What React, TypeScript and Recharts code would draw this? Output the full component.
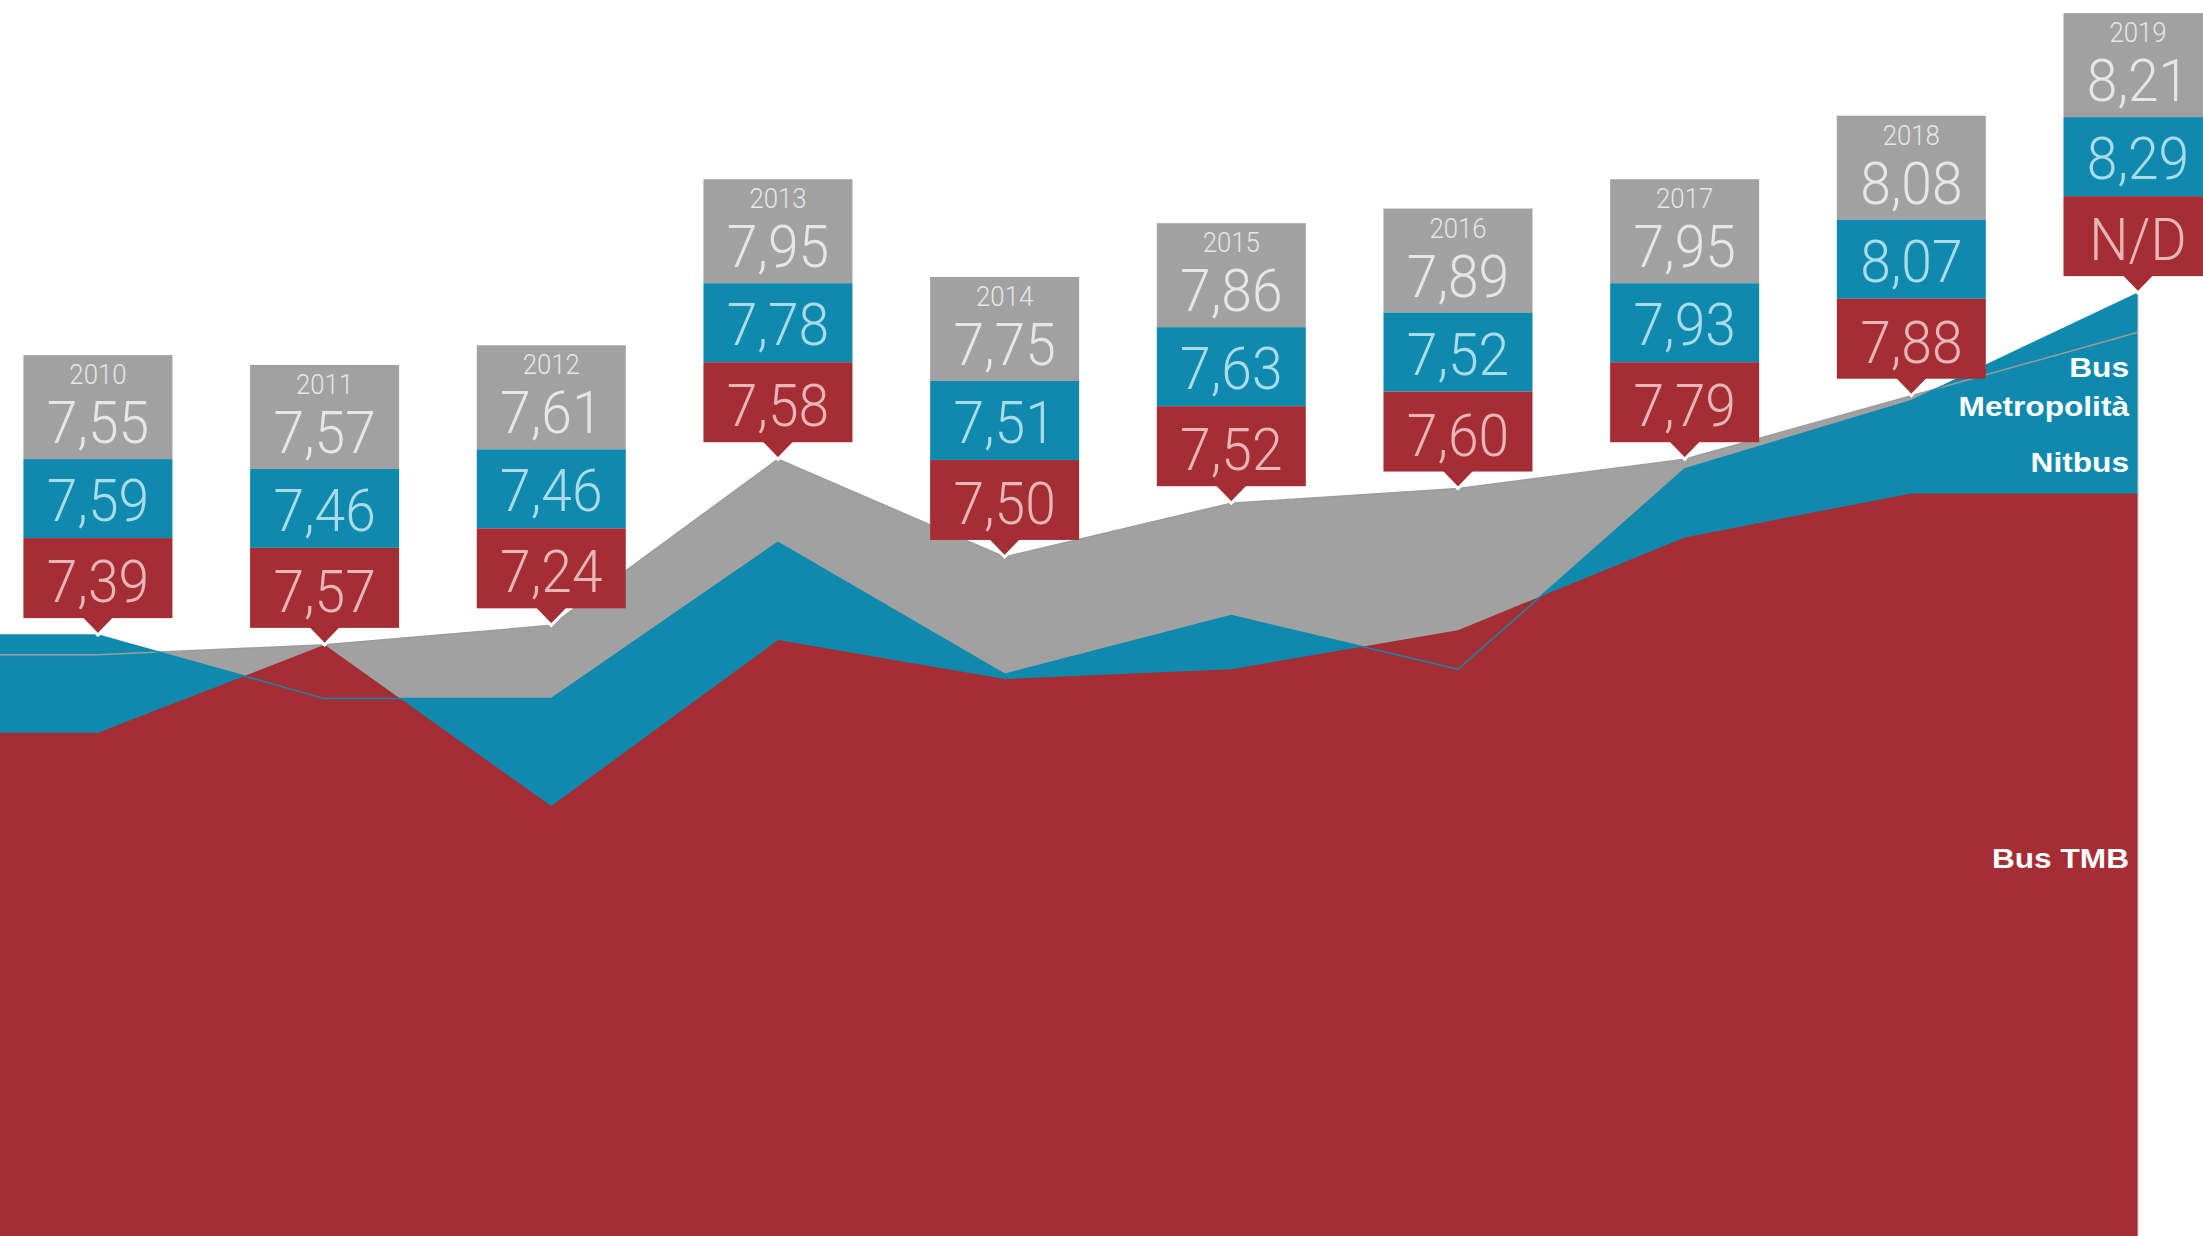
import React from "react";
import { ComposedChart, Area, Line, XAxis, YAxis, LabelList, ReferenceLine } from "recharts";

const years = [2010, 2011, 2012, 2013, 2014, 2015, 2016, 2017, 2018, 2019];
const metropolitaValues = [7.55, 7.57, 7.61, 7.95, 7.75, 7.86, 7.89, 7.95, 8.08, 8.21];
const nitbusValues = [7.59, 7.46, 7.46, 7.78, 7.51, 7.63, 7.52, 7.93, 8.07, 8.29];
// 2019 Bus TMB: not reported (N/D); the drawn area stays flat at the 2018 level
const tmbValues = [7.39, 7.57, 7.24, 7.58, 7.5, 7.52, 7.6, 7.79, 7.88, 7.88];
const tmbNotAvailable = [2019];
const seriesNames = { metro: ["Bus", "Metropolità"], nit: ["Nitbus"], tmb: ["Bus TMB"] };

const X_DOMAIN: [number, number] = [2009.568, 2019];
const Y_DOMAIN: [number, number] = [6.36, 8.89];

const COLORS = { gray: "#a1a1a1", blue: "#0f8aae", red: "#a52d34" };
const TEXT = { gray: "#e6e6e6", blue: "#a9dbe9", red: "#e8b5b9" };

const rows = years.map((year, i) => ({
  year,
  metro: metropolitaValues[i],
  nit: nitbusValues[i],
  tmb: tmbValues[i],
  top: Math.max(metropolitaValues[i], nitbusValues[i], tmbValues[i]),
  idx: i,
}));
// left edge of the plot: the areas continue flat from the first year
const data = [{ ...rows[0], year: X_DOMAIN[0], idx: -1 }, ...rows];
const lastRow = rows[rows.length - 1];

const fmt = (v: number) => v.toFixed(2).replace(".", ",");

const NUM_FONT = "Roboto, 'Liberation Sans', sans-serif";
const SX = 0.92;

function CondText({ x, y, size, fill, children }: any) {
  return (
    <g transform={`translate(${x},${y}) scale(${SX},1)`}>
      <text x={0} y={0} textAnchor="middle" fontFamily={NUM_FONT} fontWeight={300} fontSize={size} fill={fill}>
        {children}
      </text>
    </g>
  );
}

function NameText({ x, y, children }: any) {
  return (
    <g transform={`translate(${x},${y}) scale(1.13,1)`}>
      <text x={0} y={0} textAnchor="end" fontFamily="'Liberation Sans', Arial, sans-serif" fontWeight={700} fontSize={28} fill="#ffffff">
        {children}
      </text>
    </g>
  );
}

function BoxLabel(props: any) {
  const { x, y, index } = props;
  const row = data[index];
  if (!row || row.idx < 0 || x == null || y == null) return null;
  const W = 149;
  const half = W / 2;
  const top = y - 280;
  const tmbLabel = tmbNotAvailable.includes(row.year) ? "N/D" : fmt(row.tmb);
  const isLast = row.idx === years.length - 1;
  return (
    <g>
      <polygon
        points={`${x - 19.4},${y - 20} ${x + 19.4},${y - 20} ${x},${y}`}
        fill={COLORS.red}
        stroke="#ffffff"
        strokeWidth={3}
      />
      <rect x={x - half} y={top} width={W} height={104} fill={COLORS.gray} />
      <rect x={x - half} y={top + 104} width={W} height={79} fill={COLORS.blue} />
      <rect x={x - half} y={top + 183} width={W} height={80} fill={COLORS.red} />
      <CondText x={x} y={top + 29} size={28} fill={TEXT.gray}>{String(row.year)}</CondText>
      <CondText x={x} y={top + 88} size={60} fill={TEXT.gray}>{fmt(row.metro)}</CondText>
      <CondText x={x} y={top + 166} size={60} fill={TEXT.blue}>{fmt(row.nit)}</CondText>
      <CondText x={x} y={top + 247} size={60} fill={TEXT.red}>{tmbLabel}</CondText>
      {isLast && (
        <g>
          <NameText x={x - 9} y={377}>{seriesNames.metro[0]}</NameText>
          <NameText x={x - 9} y={416}>{seriesNames.metro[1]}</NameText>
          <NameText x={x - 9} y={472}>{seriesNames.nit[0]}</NameText>
          <NameText x={x - 9} y={868}>{seriesNames.tmb[0]}</NameText>
        </g>
      )}
    </g>
  );
}

export default function App() {
  return (
    <div style={{ position: "absolute", left: 0, top: 0, width: 2203, height: 1236, overflow: "hidden", background: "#fff" }}>
      <ComposedChart width={2203} height={1236} data={data} margin={{ top: 0, right: 65, bottom: 0, left: 0 }}>
        <XAxis dataKey="year" type="number" domain={X_DOMAIN} hide />
        <YAxis type="number" domain={Y_DOMAIN} hide />
        <Area dataKey="metro" type="linear" fill={COLORS.gray} fillOpacity={1} stroke="none" dot={false} activeDot={false} isAnimationActive={false} />
        <Area dataKey="nit" type="linear" fill={COLORS.blue} fillOpacity={1} stroke="none" dot={false} activeDot={false} isAnimationActive={false} />
        <Area dataKey="tmb" type="linear" fill={COLORS.red} fillOpacity={1} stroke="none" dot={false} activeDot={false} isAnimationActive={false} />
        <ReferenceLine
          segment={[{ x: lastRow.year, y: Y_DOMAIN[0] }, { x: lastRow.year, y: lastRow.top }]}
          stroke="#c4c4c4"
          strokeWidth={1}
        />
        <Line dataKey="metro" type="linear" stroke="#9c9c9c" strokeWidth={1.5} dot={false} activeDot={false} isAnimationActive={false} />
        <Line dataKey="nit" type="linear" stroke={COLORS.blue} strokeWidth={1.5} dot={false} activeDot={false} isAnimationActive={false} />
        <Line dataKey="top" type="linear" stroke="none" dot={false} activeDot={false} isAnimationActive={false}>
          <LabelList dataKey="top" content={BoxLabel} />
        </Line>
      </ComposedChart>
    </div>
  );
}
